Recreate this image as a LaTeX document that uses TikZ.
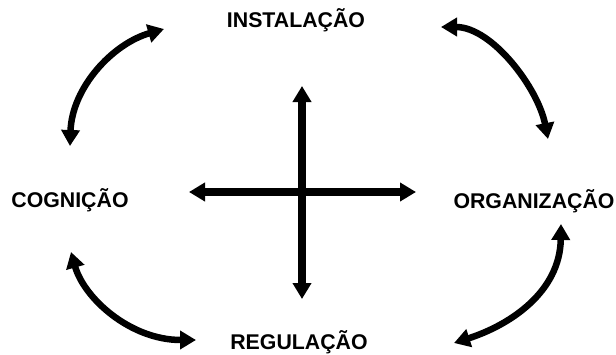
\documentclass[tikz,border=0pt]{standalone}
\usepackage{fontspec}
\setmainfont{Liberation Sans}
\usetikzlibrary{arrows.meta}
\tikzset{
  lbl/.style={font=\fontsize{21.3}{25}\selectfont\bfseries, inner sep=0pt, anchor=base},
  curvearrow/.style={line width=6.5pt, {Triangle[length=16pt,width=18pt]}-{Triangle[length=16pt,width=18pt]}},
  crossarrow/.style={line width=7.5pt, {Triangle[length=16pt,width=18pt]}-{Triangle[length=16pt,width=18pt]}}
}
\begin{document}
\begin{tikzpicture}[x=1pt,y=-1pt]
\useasboundingbox (0,0) rectangle (616,354);
\node[lbl] (inst) at (296,27.5) {INSTALAÇÃO};
\node[lbl] (cogn) at (70,207.5) {COGNIÇÃO};
\node[lbl] (orga) at (534,208.5) {ORGANIZAÇÃO};
\node[lbl] (regu) at (299,349.5) {REGULAÇÃO};
% curved arrow endpoints
\coordinate (tl1) at (70,146);
\coordinate (tl2) at (164,29);
\coordinate (tr1) at (441,27);
\coordinate (tr2) at (548,139);
\coordinate (bl1) at (71,252);
\coordinate (bl2) at (196,340);
\coordinate (br1) at (561,224);
\coordinate (br2) at (454,343);
\draw[curvearrow] (tl1) .. controls (72,88) and (112,44) .. (tl2);
\draw[curvearrow] (tr1) .. controls (492,27) and (538,88) .. (tr2);
\draw[curvearrow] (bl1) .. controls (84,298) and (130,340) .. (bl2);
\draw[curvearrow] (br1) .. controls (560,292) and (510,325) .. (br2);
% cross
\coordinate (ctop) at (302,86);
\coordinate (cbot) at (302,299);
\coordinate (cleft) at (189,192);
\coordinate (cright) at (416,192);
\draw[crossarrow] (ctop) -- (cbot);
\draw[crossarrow] (cleft) -- (cright);
\end{tikzpicture}
\end{document}
